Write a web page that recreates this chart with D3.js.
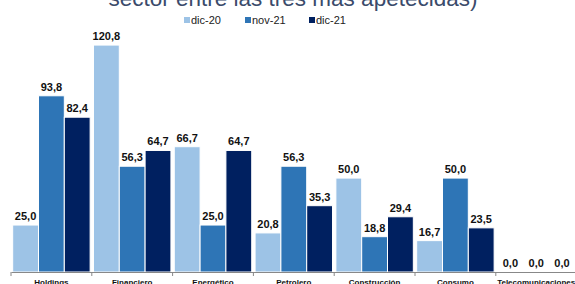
<!DOCTYPE html>
<html><head><meta charset="utf-8">
<script src="https://cdn.jsdelivr.net/npm/d3@7"></script>
<style>html,body{margin:0;padding:0;background:#fff;overflow:hidden}</style>
</head><body>
<svg id="c" width="575" height="284"></svg>
<script>
const categories = ["Holdings","Financiero","Energético","Petrolero","Construcción","Consumo","Telecomunicaciones"];
const seriesNames = ["dic-20","nov-21","dic-21"];
const dic20 = [25.0,120.8,66.7,20.8,50.0,16.7,0.0];
const nov21 = [93.8,56.3,25.0,56.3,18.8,50.0,0.0];
const dic21 = [82.4,64.7,64.7,35.3,29.4,23.5,0.0];
const colors = ["#9dc3e6","#2e75b6","#002060"];
const title = "sector entre las tres más apetecidas)";

const series = [dic20,nov21,dic21];
const svg = d3.select("#c");
const baseY = 272;
const x = d3.scaleBand().domain(categories).range([11,576.6]).paddingInner(0).paddingOuter(0);
const x1 = d3.scaleBand().domain(seriesNames).range([0,x.bandwidth()]).paddingOuter(0.065).paddingInner(0);
const y = d3.scaleLinear().domain([0,140]).range([baseY,baseY-263]);

svg.append("text").attr("x",293).attr("y",6).attr("text-anchor","middle")
  .attr("font-family","Liberation Sans, Arial, sans-serif").attr("font-size",22.5)
  .attr("fill","#3b4b6b").text(title);

// legend
const legX = [184,245,309];
seriesNames.forEach((s,i)=>{
  svg.append("rect").attr("x",legX[i]).attr("y",17).attr("width",6).attr("height",6).attr("fill",colors[i]);
  svg.append("text").attr("x",legX[i]+7).attr("y",24).attr("font-family","Liberation Sans, Arial, sans-serif")
    .attr("font-size",11).attr("fill","#222").text(s);
});

const g = svg.append("g");
categories.forEach((c,ci)=>{
  seriesNames.forEach((s,si)=>{
    const v = series[si][ci];
    const bx = x(c)+x1(s);
    g.append("rect").attr("x",bx).attr("y",y(v)).attr("width",x1.bandwidth()).attr("height",baseY-y(v))
      .attr("fill",colors[si]).attr("stroke","#fff").attr("stroke-width",1);
    g.append("text").attr("x",bx+x1.bandwidth()/2).attr("y",y(v)-5).attr("text-anchor","middle")
      .attr("font-family","Liberation Sans, Arial, sans-serif").attr("font-weight","bold").attr("font-size",11)
      .attr("fill","#111").text(d3.format(".1f")(v).replace(".",","));
  });
});

const axis = d3.axisBottom(x).tickSize(0).tickSizeOuter(0);
const ag = svg.append("g").attr("transform",`translate(0,${baseY})`).call(axis);
ag.select(".domain").attr("stroke","#888");
ag.selectAll(".tick text").attr("font-family","Liberation Sans, Arial, sans-serif").attr("font-weight","bold")
  .attr("font-size",8).attr("fill","#111").attr("dy",0).attr("y",13);
// category boundary ticks
const bounds = categories.map(c=>x(c)).concat([x.range()[1]]);
ag.selectAll(".bt").data(bounds).enter().append("line").attr("x1",d=>d).attr("x2",d=>d)
  .attr("y1",0).attr("y2",4).attr("stroke","#888");
</script>
</body></html>
